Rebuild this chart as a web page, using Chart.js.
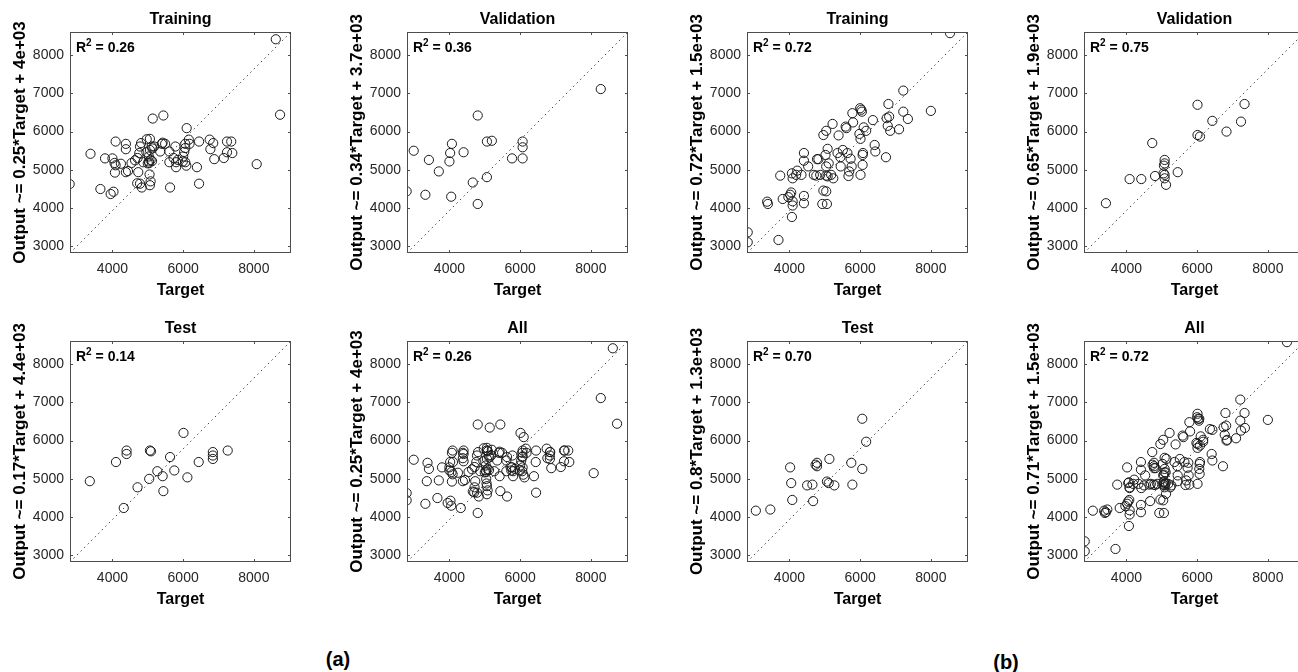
<!DOCTYPE html>
<html>
<head>
<meta charset="utf-8">
<script src="https://cdn.jsdelivr.net/npm/chart.js@4.4.1/dist/chart.umd.min.js"></script>
<style>
  body { margin: 0; background: #fff; width: 1298px; height: 672px; overflow: hidden; position: relative; }
  canvas { position: absolute; }
  .tag { position: absolute; font: bold 20px "Liberation Sans", Arial, sans-serif; transform: translate(-50%, -50%); }
</style>
</head>
<body>
<div class="tag" style="left:338px;top:659px">(a)</div>
<div class="tag" style="left:1006px;top:662px">(b)</div>
<script>
// axis limits shared by every panel
const X_MIN = 2800, X_MAX = 9050, Y_MIN = 2830, Y_MAX = 8600;
const xTicks = [4000, 6000, 8000];
const yTicks = [3000, 4000, 5000, 6000, 7000, 8000];

// (a) training
const aTrainTarget = [2790, 3380, 3660, 3790, 4000, 4060, 4090, 4070, 4090, 3950, 4030, 4380, 4380, 4380, 4440, 4240,
  4540, 4640, 4730, 4700, 4780, 4830, 4760, 4780, 4810, 4710, 4870, 4970, 5060, 5030, 5030, 5040, 5080, 5050, 5080,
  5060, 5140, 5110, 5180, 5060, 5440, 5400, 5420, 5490, 5350, 5610, 5610, 5630, 5730, 5800, 5780, 5800, 5990, 6060,
  6030, 6060, 6060, 6100, 6160, 6180, 6090, 6390, 6450, 6450, 6750, 6770, 6850, 6880, 7150, 7240, 7360, 7240, 7390,
  8080, 8620, 8740, 5000, 5120, 4960, 5130, 5850, 6000];
const aTrainOutput = [4630, 5420, 4500, 5300, 5300, 5180, 5120, 4930, 5740, 4370, 4430, 5680, 5540, 4940, 4970, 5160,
  5180, 5250, 4940, 4650, 4640, 4540, 5440, 5610, 5700, 5310, 5200, 5800, 5810, 5350, 5220, 5180, 5260, 4880, 4700,
  4600, 6340, 5610, 5610, 5520, 6420, 5680, 5710, 5680, 5480, 5480, 5200, 4540, 5310, 5200, 5610, 5070, 5220, 5200,
  5470, 5570, 5680, 6090, 5790, 5680, 5110, 5070, 4640, 5740, 5790, 5540, 5700, 5280, 5310, 5740, 5740, 5460, 5440,
  5150, 8410, 6440, 5170, 5230, 5460, 5560, 5260, 5350];

// (a) validation
const aValTarget = [2790, 2990, 3320, 3420, 3700, 4000, 4020, 4070, 4050, 4400, 4660, 4800, 4800, 5060, 5060, 5200,
  5770, 6070, 6070, 6070, 8280];
const aValOutput = [4440, 5500, 4350, 5260, 4960, 5220, 5440, 5680, 4300, 5460, 4670, 6420, 4110, 4810, 5740, 5760,
  5300, 5740, 5590, 5300, 7110];

// (a) test
const aTestTarget = [3360, 4100, 4400, 4400, 4320, 4710, 5040, 5060, 5090, 5270, 5420, 5440, 5630, 5750, 6010, 6120,
  6440, 6840, 6840, 6840, 7260];
const aTestOutput = [4940, 5440, 5740, 5650, 4240, 4780, 5000, 5740, 5720, 5200, 5070, 4680, 5570, 5220, 6200, 5040,
  5440, 5700, 5610, 5520, 5740];

// (b) training
const bTrainTarget = [2820, 2820, 3370, 3390, 3690, 3740, 3810, 3970, 4020, 4050, 4090, 4070, 4090, 4070, 4090, 4190,
  4220, 4340, 4410, 4410, 4410, 4410, 4530, 4690, 4760, 4780, 4820, 4870, 4930, 4960, 5040, 5060, 4960, 5040, 5020,
  5080, 5040, 5110, 5080, 5040, 5240, 5220, 5180, 5390, 5360, 5440, 5450, 5510, 5590, 5610, 5640, 5670, 5690, 5730,
  5760, 5780, 5800, 6000, 6030, 6050, 5980, 6010, 6080, 6070, 6010, 6070, 6100, 6170, 6360, 6410, 6430, 6730, 6750,
  6780, 6800, 6820, 6850, 7100, 7220, 7220, 7350, 8000, 8540];
const bTrainOutput = [3370, 3110, 4170, 4110, 3170, 4850, 4240, 4290, 4350, 4410, 4180, 3770, 4070, 4910, 4780, 4870,
  4980, 4870, 5440, 5240, 4320, 4130, 5090, 4870, 4850, 5280, 5280, 4870, 4110, 4460, 4440, 4110, 5910, 6020, 5390,
  5550, 5090, 5170, 4830, 4850, 4780, 6200, 4870, 5900, 5440, 5330, 5090, 5520, 6130, 6090, 5440, 4840, 4960, 5290,
  5090, 6480, 6240, 6610, 6570, 6520, 5940, 5810, 5440, 5390, 4870, 5130, 6110, 6020, 6300, 5650, 5480, 5330, 6350,
  6150, 6720, 6390, 6020, 6060, 7070, 6520, 6330, 6540, 8570];

// (b) validation
const bValTarget = [3420, 4090, 4420, 4730, 4810, 5080, 5080, 5060, 5050, 5080, 5080, 5120, 5450, 6010, 6080, 6010,
  6430, 6830, 7240, 7340];
const bValOutput = [4130, 4760, 4760, 5700, 4840, 5260, 5170, 5110, 4910, 4870, 4780, 4610, 4940, 5910, 5870, 6700,
  6280, 6000, 6260, 6720];

// (b) test
const bTestTarget = [3050, 3460, 4020, 4050, 4080, 4500, 4650, 4670, 4740, 4780, 4780, 5060, 5110, 5130, 5270, 5750,
  5780, 6060, 6060, 6170];
const bTestOutput = [4170, 4200, 5300, 4890, 4450, 4830, 4850, 4420, 5370, 5420, 5330, 4930, 4890, 5520, 4830, 5420,
  4850, 5260, 6570, 5970];

const panels = [
  {left: 0, top: 0, title: 'Training', fit: 'Output ~= 0.25*Target + 4e+03', r2: '0.26', t: aTrainTarget, o: aTrainOutput},
  {left: 337, top: 0, title: 'Validation', fit: 'Output ~= 0.34*Target + 3.7e+03', r2: '0.36', t: aValTarget, o: aValOutput},
  {left: 0, top: 309, title: 'Test', fit: 'Output ~= 0.17*Target + 4.4e+03', r2: '0.14', t: aTestTarget, o: aTestOutput},
  {left: 337, top: 309, title: 'All', fit: 'Output ~= 0.25*Target + 4e+03', r2: '0.26',
    t: aTrainTarget.concat(aValTarget, aTestTarget), o: aTrainOutput.concat(aValOutput, aTestOutput)},
  {left: 677, top: 0, title: 'Training', fit: 'Output ~= 0.72*Target + 1.5e+03', r2: '0.72', t: bTrainTarget, o: bTrainOutput},
  {left: 1014, top: 0, title: 'Validation', fit: 'Output ~= 0.65*Target + 1.9e+03', r2: '0.75', t: bValTarget, o: bValOutput},
  {left: 677, top: 309, title: 'Test', fit: 'Output ~= 0.8*Target + 1.3e+03', r2: '0.70', t: bTestTarget, o: bTestOutput},
  {left: 1014, top: 309, title: 'All', fit: 'Output ~= 0.71*Target + 1.5e+03', r2: '0.72',
    t: bTrainTarget.concat(bValTarget, bTestTarget), o: bTrainOutput.concat(bValOutput, bTestOutput)}
];

Chart.defaults.font.family = "'Liberation Sans', Arial, sans-serif";
Chart.defaults.color = '#262626';

// box around the axes, inward ticks and the R^2 note
const boxPlugin = {
  id: 'box',
  afterDatasetsDraw(chart, args, opts) {
    const {ctx, chartArea: a, scales} = chart;
    ctx.save();
    ctx.strokeStyle = '#4d4d4d';
    ctx.lineWidth = 1;
    ctx.strokeRect(a.left + 0.5, a.top + 0.5, a.right - a.left - 1, a.bottom - a.top - 1);
    ctx.beginPath();
    xTicks.forEach(v => {
      const px = Math.round(scales.x.getPixelForValue(v)) + 0.5;
      ctx.moveTo(px, a.bottom); ctx.lineTo(px, a.bottom - 3);
      ctx.moveTo(px, a.top); ctx.lineTo(px, a.top + 3);
    });
    yTicks.forEach(v => {
      const py = Math.round(scales.y.getPixelForValue(v)) + 0.5;
      ctx.moveTo(a.left, py); ctx.lineTo(a.left + 3, py);
      ctx.moveTo(a.right, py); ctx.lineTo(a.right - 3, py);
    });
    ctx.stroke();

    ctx.fillStyle = '#000';
    ctx.textBaseline = 'middle';
    let x = a.left + 6;
    const y = a.top + 16;
    ctx.font = "bold 14px 'Liberation Sans', Arial, sans-serif";
    ctx.fillText('R', x, y);
    x += ctx.measureText('R').width;
    ctx.font = "bold 10px 'Liberation Sans', Arial, sans-serif";
    ctx.fillText('2', x, y - 5);
    x += ctx.measureText('2').width;
    ctx.font = "bold 14px 'Liberation Sans', Arial, sans-serif";
    ctx.fillText(' = ' + opts.r2, x, y);
    ctx.restore();
  }
};

panels.forEach(p => {
  const canvas = document.createElement('canvas');
  canvas.width = 300;
  canvas.height = 305;
  canvas.style.left = p.left + 'px';
  canvas.style.top = p.top + 'px';
  document.body.appendChild(canvas);

  const points = p.t.map((v, i) => ({x: v, y: p.o[i]}));

  new Chart(canvas, {
    type: 'scatter',
    data: {
      datasets: [
        {
          data: points,
          pointStyle: 'circle',
          pointRadius: 4.6,
          borderWidth: 1,
          borderColor: '#1a1a1a',
          backgroundColor: 'rgba(0,0,0,0)'
        },
        {
          data: [{x: X_MIN, y: Y_MIN}, {x: X_MAX, y: Y_MAX}],
          showLine: true,
          pointRadius: 0,
          borderColor: '#444',
          borderWidth: 1,
          borderDash: [1.5, 3.5]
        }
      ]
    },
    options: {
      responsive: false,
      animation: false,
      devicePixelRatio: 1,
      layout: {padding: {right: 9}},
      plugins: {
        legend: {display: false},
        tooltip: {enabled: false},
        title: {
          display: true,
          text: p.title,
          fullSize: false,
          color: '#000',
          font: {size: 16, weight: 'bold'},
          padding: {top: 10, bottom: 2.8}
        },
        box: {r2: p.r2}
      },
      scales: {
        x: {
          type: 'linear',
          min: X_MIN,
          max: X_MAX,
          grid: {display: false, drawTicks: false},
          border: {display: false},
          afterBuildTicks: s => { s.ticks = xTicks.map(v => ({value: v})); },
          afterFit: s => { s.height = 52; },
          ticks: {font: {size: 14}, padding: 8, maxRotation: 0, callback: v => String(v)},
          title: {display: true, text: 'Target', color: '#000', font: {size: 16, weight: 'bold'}, padding: {top: 0, bottom: 4.4}}
        },
        y: {
          type: 'linear',
          min: Y_MIN,
          max: Y_MAX,
          grid: {display: false, drawTicks: false},
          border: {display: false},
          afterBuildTicks: s => { s.ticks = yTicks.map(v => ({value: v})); },
          afterFit: s => { s.width = 70; },
          ticks: {font: {size: 14}, padding: 6, callback: v => String(v)},
          title: {display: true, text: p.fit, color: '#000', font: {size: 17, weight: 'bold'}, padding: {top: 10.5, bottom: 0}}
        }
      }
    },
    plugins: [boxPlugin]
  });
});
</script>
</body>
</html>
